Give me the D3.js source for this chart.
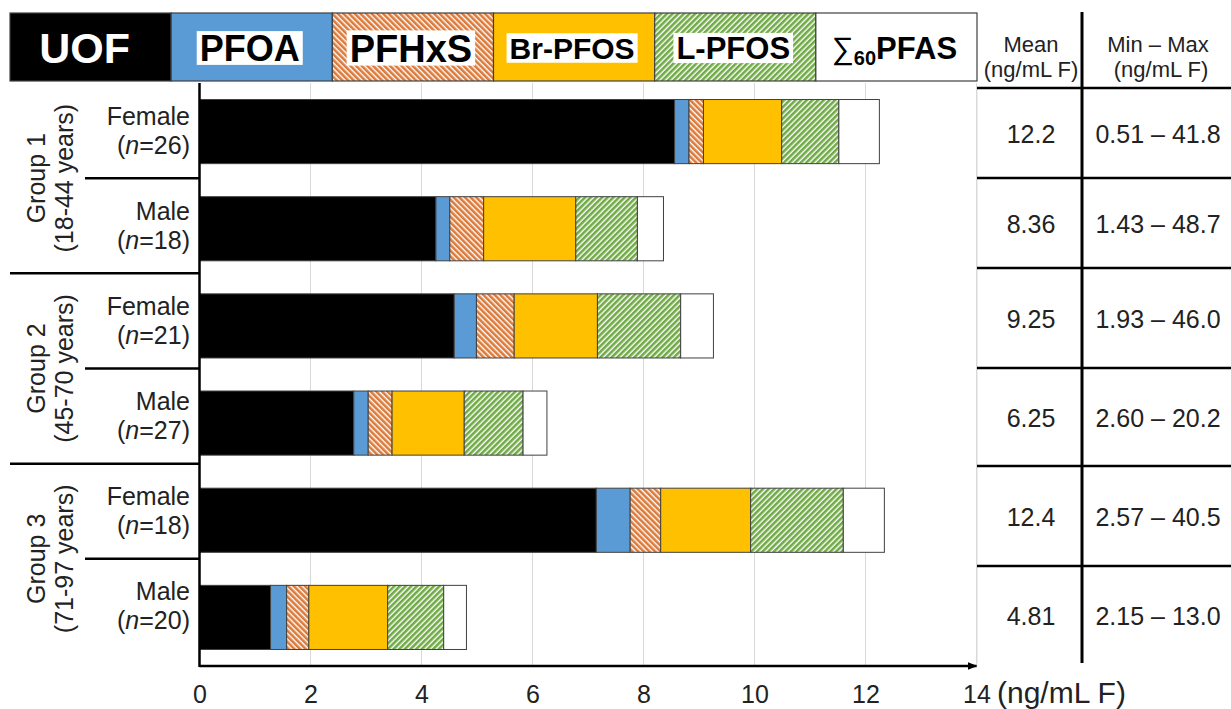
<!DOCTYPE html>
<html>
<head>
<meta charset="utf-8">
<script src="https://cdn.jsdelivr.net/npm/d3@7"></script>
<style>
  body { margin: 0; background: #fff; }
  svg { display: block; font-family: "Liberation Sans", Arial, sans-serif; }
</style>
</head>
<body>
<div id="chart"></div>
<script>
// rows, top to bottom
const rowKeys = ['g1f', 'g1m', 'g2f', 'g2m', 'g3f', 'g3m'];
const sexLabels = ['Female', 'Male', 'Female', 'Male', 'Female', 'Male'];
const nCounts = [26, 18, 21, 27, 18, 20];
const groupNames = ['Group 1', 'Group 2', 'Group 3'];
const ageRanges = ['(18-44 years)', '(45-70 years)', '(71-97 years)'];

const seriesNames = ['UOF', 'PFOA', 'PFHxS', 'Br-PFOS', 'L-PFOS', 'Σ60PFAS'];

// stacked segments (ng/mL F)
const uof = [8.56, 4.26, 4.59, 2.78, 7.15, 1.28];
const pfoa = [0.26, 0.25, 0.40, 0.26, 0.61, 0.29];
const pfhxs = [0.26, 0.61, 0.68, 0.43, 0.55, 0.40];
const brPfos = [1.41, 1.66, 1.50, 1.30, 1.62, 1.42];
const lPfos = [1.03, 1.11, 1.50, 1.06, 1.67, 1.01];
const otherPfas = [0.73, 0.47, 0.59, 0.43, 0.74, 0.41];

const meanValues = ['12.2', '8.36', '9.25', '6.25', '12.4', '4.81'];
const minMax = ['0.51 – 41.8', '1.43 – 48.7', '1.93 – 46.0', '2.60 – 20.2', '2.57 – 40.5', '2.15 – 13.0'];

const xTicks = [0, 2, 4, 6, 8, 10, 12, 14];

const W = 1231, H = 709;
const svg = d3.select('#chart').append('svg')
  .attr('width', W).attr('height', H);

svg.append('rect').attr('width', W).attr('height', H).attr('fill', '#fff');

// hatch patterns
const defs = svg.append('defs');
function hatch(id, color, angle) {
  const p = defs.append('pattern')
    .attr('id', id)
    .attr('patternUnits', 'userSpaceOnUse')
    .attr('width', 4).attr('height', 4)
    .attr('patternTransform', 'rotate(' + angle + ')');
  p.append('rect').attr('width', 4).attr('height', 4).attr('fill', '#fff');
  p.append('rect').attr('width', 2.6).attr('height', 4).attr('fill', color);
}
hatch('hatchOrange', '#DC7A3A', -45);
hatch('hatchGreen', '#6FAA45', 45);

const fills = ['#000000', '#5B9BD5', 'url(#hatchOrange)', '#FFC000', 'url(#hatchGreen)', '#ffffff'];

// scales
const x = d3.scaleLinear().domain([0, 14]).range([199.5, 976.5]);
const yBar = d3.scaleBand().domain(rowKeys).range([83, 666]).paddingInner(0.34).paddingOuter(0.17);
const yLab = d3.scaleBand().domain(rowKeys).range([83, 654]);
const plotTop = 83, plotBottom = 666;

// gridlines
svg.append('g').selectAll('line')
  .data(xTicks.filter(d => d > 0))
  .join('line')
  .attr('x1', d => x(d)).attr('x2', d => x(d))
  .attr('y1', plotTop).attr('y2', plotBottom)
  .attr('stroke', '#d9d9d9').attr('stroke-width', 1);

// stacked bars
const table = rowKeys.map((k, i) => ({
  key: k,
  UOF: uof[i], PFOA: pfoa[i], PFHxS: pfhxs[i],
  'Br-PFOS': brPfos[i], 'L-PFOS': lPfos[i], 'Σ60PFAS': otherPfas[i]
}));
const stacked = d3.stack().keys(seriesNames)(table);

svg.append('g').selectAll('g')
  .data(stacked)
  .join('g')
  .attr('fill', (d, i) => fills[i])
  .selectAll('rect')
  .data(d => d)
  .join('rect')
  .attr('x', d => x(d[0]))
  .attr('width', d => x(d[1]) - x(d[0]))
  .attr('y', d => yBar(d.data.key))
  .attr('height', yBar.bandwidth())
  .attr('stroke', '#404040')
  .attr('stroke-width', 1);

// x axis
defs.append('marker')
  .attr('id', 'arrow').attr('viewBox', '0 0 10 10')
  .attr('refX', 9).attr('refY', 5)
  .attr('markerWidth', 4).attr('markerHeight', 4)
  .attr('orient', 'auto')
  .append('path').attr('d', 'M0,1 L10,5 L0,9 Z').attr('fill', '#000');

svg.append('line')
  .attr('x1', x(0)).attr('x2', x(14))
  .attr('y1', plotBottom).attr('y2', plotBottom)
  .attr('stroke', '#000').attr('stroke-width', 2.5)
  .attr('marker-end', 'url(#arrow)');

svg.append('line')
  .attr('x1', x(0)).attr('x2', x(0))
  .attr('y1', plotTop).attr('y2', plotBottom + 1)
  .attr('stroke', '#000').attr('stroke-width', 2.5);

const xAxis = svg.append('g')
  .attr('transform', 'translate(0,' + plotBottom + ')')
  .call(d3.axisBottom(x).tickValues(xTicks).tickSize(0).tickPadding(19).tickFormat(d3.format('d')));
xAxis.select('.domain').remove();
xAxis.selectAll('text')
  .attr('font-size', 25)
  .attr('font-family', '"Liberation Sans", Arial, sans-serif')
  .attr('fill', '#222');

svg.append('text')
  .attr('x', 997).attr('y', 703)
  .attr('font-size', 30).attr('fill', '#222')
  .text('(ng/mL F)');

// row labels
const rowLab = svg.append('g').attr('font-size', 25).attr('fill', '#222').attr('text-anchor', 'end');
rowKeys.forEach((k, i) => {
  const c = yLab(k) + yLab.bandwidth() / 2;
  rowLab.append('text').attr('x', 190).attr('y', c - 6).text(sexLabels[i]);
  const t = rowLab.append('text').attr('x', 190).attr('y', c + 23);
  t.append('tspan').text('(');
  t.append('tspan').attr('font-style', 'italic').text('n');
  t.append('tspan').text('=' + nCounts[i] + ')');
});

// separators between rows on the label side
const seps = svg.append('g').attr('stroke', '#000').attr('stroke-width', 2.5);
rowKeys.slice(1).forEach((k, i) => {
  const yy = yLab(k);
  const isGroup = (i + 1) % 2 === 0;
  seps.append('line')
    .attr('x1', isGroup ? 10 : 85).attr('x2', x(0))
    .attr('y1', yy).attr('y2', yy);
});

// group labels (rotated)
groupNames.forEach((g, gi) => {
  const c = yLab(rowKeys[gi * 2 + 1]);
  const gg = svg.append('g')
    .attr('transform', 'translate(0,' + c + ') rotate(-90)')
    .attr('font-size', 25).attr('fill', '#222').attr('text-anchor', 'middle');
  gg.append('text').attr('x', 0).attr('y', 45).text(g);
  gg.append('text').attr('x', 0).attr('y', 73).text(ageRanges[gi]);
});

// legend band across the top
const legX = d3.scaleBand().domain(seriesNames).range([10, 977]);
const legTop = 13, legH = 68;
const leg = svg.append('g');
leg.selectAll('rect')
  .data(seriesNames)
  .join('rect')
  .attr('x', d => legX(d)).attr('y', legTop)
  .attr('width', legX.bandwidth()).attr('height', legH)
  .attr('fill', (d, i) => fills[i])
  .attr('stroke', '#404040').attr('stroke-width', 1.2);

const legSizes = [43, 36, 38, 30, 31, 31];
seriesNames.forEach((name, i) => {
  const cx = legX(name) + legX.bandwidth() / 2 - (i === 0 ? 6 : 2);
  const fs = legSizes[i];
  const base = legTop + legH / 2 + fs * 0.716 / 2 + 1;
  const g = leg.append('g');
  const t = g.append('text')
    .attr('x', cx).attr('y', base)
    .attr('text-anchor', 'middle')
    .attr('font-size', fs).attr('font-weight', 'bold')
    .attr('fill', i === 0 ? '#fff' : '#000');
  if (name === 'Σ60PFAS') {
    t.append('tspan').attr('font-weight', 'normal').text('∑');
    t.append('tspan').attr('font-size', 20).attr('dy', 6).text('60');
    t.append('tspan').attr('dy', -6).text('PFAS');
  } else {
    t.text(name);
  }
  if (i >= 1 && i <= 4) {
    const bb = t.node().getBBox();
    const cap = fs * 0.716;
    g.insert('rect', 'text')
      .attr('x', bb.x - 3).attr('width', bb.width + 6)
      .attr('y', base - cap - 4).attr('height', cap + 8)
      .attr('fill', '#fff');
  }
});

// side table
const colMean = 1031, colRange = 1158, tableLeft = 977, divX = 1082;
const tableLines = [88, 178, 268, 368, 466, 566];
const tableBottom = 663;

svg.append('line')
  .attr('x1', tableLeft).attr('x2', tableLeft)
  .attr('y1', 88).attr('y2', tableBottom)
  .attr('stroke', '#d9d9d9').attr('stroke-width', 1);

svg.append('g').selectAll('line')
  .data(tableLines)
  .join('line')
  .attr('x1', tableLeft).attr('x2', W)
  .attr('y1', d => d).attr('y2', d => d)
  .attr('stroke', '#000').attr('stroke-width', 2.5);

svg.append('line')
  .attr('x1', divX).attr('x2', divX)
  .attr('y1', 12).attr('y2', tableBottom)
  .attr('stroke', '#000').attr('stroke-width', 3);

const head = svg.append('g').attr('font-size', 22).attr('fill', '#222').attr('text-anchor', 'middle');
head.append('text').attr('x', colMean).attr('y', 52).text('Mean');
head.append('text').attr('x', colMean).attr('y', 77).text('(ng/mL F)');
head.append('text').attr('x', colRange).attr('y', 52).text('Min – Max');
head.append('text').attr('x', colRange + 3).attr('y', 77).text('(ng/mL F)');

const cellBottoms = tableLines.slice(1).concat([tableBottom]);
const cells = svg.append('g').attr('font-size', 25).attr('fill', '#222').attr('text-anchor', 'middle');
rowKeys.forEach((k, i) => {
  const c = (tableLines[i] + cellBottoms[i]) / 2 + 10;
  cells.append('text').attr('x', colMean).attr('y', c).text(meanValues[i]);
  cells.append('text').attr('x', colRange).attr('y', c).text(minMax[i]);
});
</script>
</body>
</html>
